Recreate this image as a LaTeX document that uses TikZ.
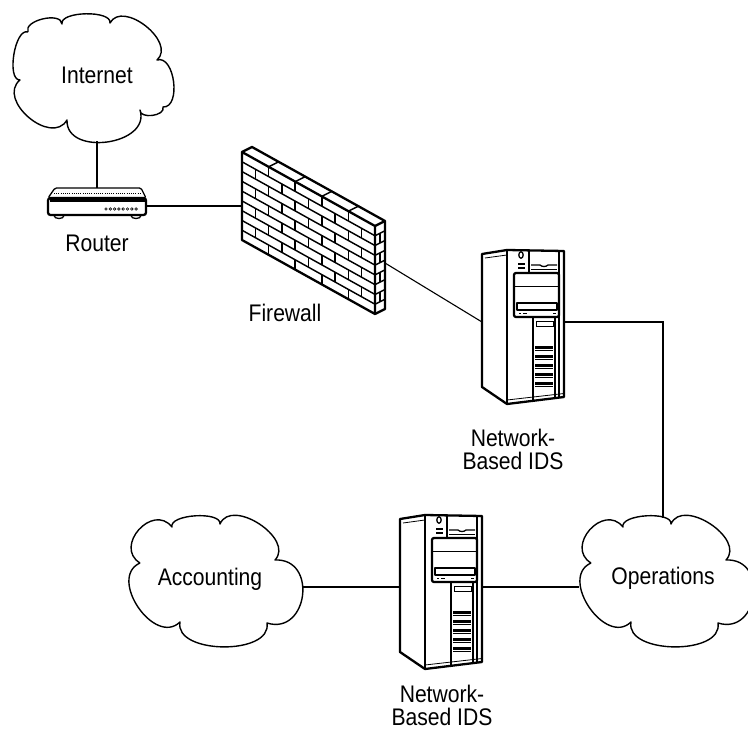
\documentclass[tikz,border=0pt]{standalone}
\usepackage{fontspec}
\setmainfont[FakeStretch=0.88]{Liberation Sans}
\begin{document}
\begin{tikzpicture}[x=1pt,y=-1pt,
  lbl/.style={font=\fontsize{24}{24}\selectfont, inner sep=0pt},
  wire/.style={line width=1.1pt},
  cloudline/.style={line width=1.4pt, line join=round},
  pf/.style={bend left=100, looseness=#1},
  heavy/.style={line width=2.3pt, line join=round},
  mid/.style={line width=1.3pt, line join=round},
  fine/.style={line width=0.8pt},
  brick/.style={line width=1.45pt},
  % small office network cloud
  lobes/.pic={
    \draw[cloudline] (-75,-17) to[pf=1.66] (-43,-53) to[pf=0.7] (5,-56)
      to[pf=1.14] (60,-20) to[pf=1.73] (52,43) to[pf=0.97] (-35,42)
      to[pf=1.28] (-75,-17);
    \coordinate (-west) at (-87,7);
    \coordinate (-east) at (88,7);
    \coordinate (-north) at (-3,-62.5);
  },
  % tower server, origin at the top-left corner of the side panel
  tower/.pic={
    \draw[heavy] (0,4) -- (25,0) -- (82,1) -- (82,147) -- (25,154) -- (0,137) -- cycle;
    \draw[heavy] (25,0) -- (25,154);
    \draw[fine] (3,8) -- (25,5);
    \draw[fine] (25,150) -- (82,143.5);
    \draw[mid] (77,1) -- (77,147.5);
    \draw[mid] (39,5) ellipse (2.2 and 3.2);
    \draw[line width=1.5pt] (36,14) -- (43,14) (36,18) -- (43,18);
    \draw[mid] (47,0.5) -- (47,23);
    \draw[mid] (49,15) -- (58,15) .. controls (60,17) and (64,17) .. (66,15) -- (75,15);
    \draw[fine] (49,19) -- (75,19);
    \draw[heavy, rounded corners=2] (32,23) rectangle (77,67);
    \draw[fine] (32,36) -- (77,36);
    \draw[mid] (35,53) rectangle (75,60);
    \draw[line width=1.3pt] (37,63.5) -- (39,63.5) (41,63.5) -- (45,63.5) (71,63.5) -- (74,63.5);
    \draw[mid] (51,67) -- (51,150.5) (73,67) -- (73,148);
    \draw[fine] (54,71) rectangle (71,76);
    \foreach \g in {97,106,115,124,133}{
      \foreach \s in {0,1.8,3.6}{\draw[line width=1.1pt] (53,\g+\s) -- (71,\g+\s);}
    }
    \coordinate (-west) at (0,72);
    \coordinate (-east) at (82,72);
  }]
\useasboundingbox (0,0) rectangle (748,731);
\clip (0,0) rectangle (748,731);

% ---- Internet cloud ----
\begin{scope}[shift={(94,78)}]
  \draw[cloudline] (-66,-46) to[pf=0.93] (-32,-54) to[pf=0.7] (16,-55)
    to[pf=1.14] (63,-18) to[pf=1.0] (69,29) to[pf=1.04] (46,32)
    to[pf=1.28] (-27,42) to[pf=1.28] (-74,2) to[pf=0.73] (-66,-46);
  \coordinate (inetS) at (3,63);
\end{scope}
\node[lbl] (inetTxt) at (97,75) {Internet};

% ---- Router ----
\draw[mid, rounded corners=1.5] (55,188) -- (141,188) -- (146,198) -- (48,198) -- cycle;
\draw[fine, dash pattern=on 1pt off 1.2pt] (54,193.5) -- (142,193.5);
\draw[heavy, rounded corners=2.5, fill=white] (48,198) rectangle (146,215);
\draw[line width=2.4pt] (49.5,200.5) -- (144.5,200.5);
\foreach \i in {0,...,7} \draw[line width=0.6pt] (106+\i*4.3,209) circle (1.3);
\draw[mid] (54,215.5) .. controls (54,219.5) and (64,219.5) .. (64,215.5);
\draw[mid] (131,215.5) .. controls (131,219.5) and (141,219.5) .. (141,215.5);
\coordinate (rtrN) at (97,188);
\coordinate (rtrE) at (146,206);
\node[lbl] (rtrTxt) at (97,243) {Router};

% ---- Firewall ----
\foreach \k in {1,...,8}
  \draw[brick] (242,{152+88*\k/9}) -- (375,{226+88*\k/9});
\foreach \k in {0,2,4,6,8}
  \foreach \u in {0.2,0.4,0.6,0.8}
    \draw[brick] ({242+133*\u},{152+74*\u+88*\k/9}) -- ++(0,88/9);
\foreach \k in {1,3,5,7}
  \foreach \u in {0.1,0.3,0.5,0.7,0.9}
    \draw[brick] ({242+133*\u},{152+74*\u+88*\k/9}) -- ++(0,88/9);
\foreach \u in {0.2,0.4,0.6,0.8}
  \draw[brick] ({242+133*\u},{152+74*\u}) -- ++(10,-5);
\foreach \k in {1,...,8}
  \draw[brick] (375,{226+88*\k/9}) -- ++(10,-5);
\foreach \k in {1,3,5,7}
  \draw[brick] (380,{223.5+88*\k/9}) -- ++(0,88/9);
\draw[heavy] (242,152) -- (375,226) -- (375,314) -- (242,240) -- cycle;
\draw[heavy] (242,152) -- (252,147) -- (385,221) -- (385,309) -- (375,314);
\draw[heavy] (375,226) -- (385,221);
\coordinate (wallW) at (242,206);
\coordinate (wallE) at (385,263);
\node[lbl] (wallTxt) at (285,313) {Firewall};

% ---- Intrusion detection sensors ----
\pic (idsA) at (482,250) {tower};
\node[lbl, align=center] (idsAtxt) at (513,449) {Network-\\[-1pt]Based IDS};
\pic (idsB) at (400,515) {tower};
\node[lbl, align=center] (idsBtxt) at (442,705) {Network-\\[-1pt]Based IDS};

% ---- Internal networks ----
\pic (acct) at (215,580) {lobes};
\node[lbl] (acctTxt) at (210,579) {Accounting};
\pic (ops) at (666,580) {lobes};
\node[lbl] (opsTxt) at (663,578) {Operations};

% ---- Links ----
\draw[wire] (inetS) -- (rtrN);
\draw[wire] (rtrE) -- (wallW);
\draw[wire] (wallE) -- (idsA-west);
\draw[wire] (idsA-east) -| (ops-north);
\draw[wire] (acct-east) -- (idsB-west);
\draw[wire] (idsB-east) -- (ops-west);
\end{tikzpicture}
\end{document}
